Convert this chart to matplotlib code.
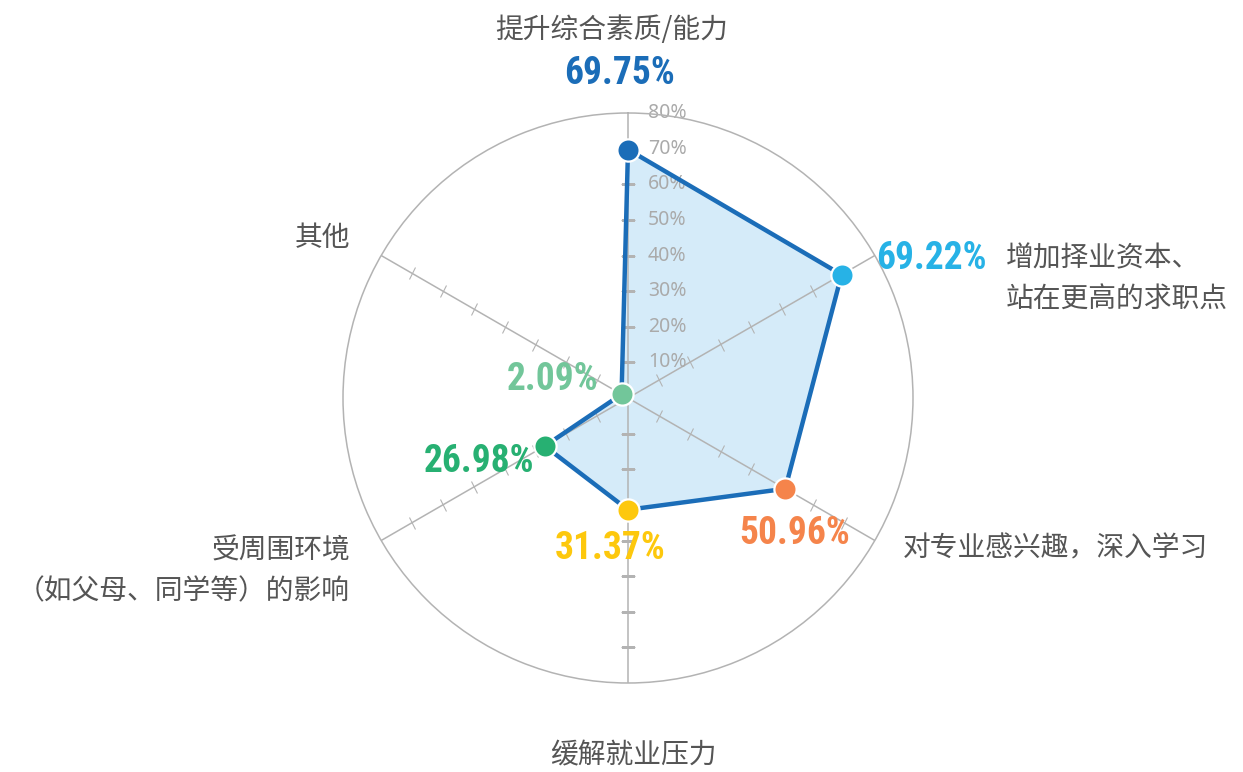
import numpy as np
import matplotlib
matplotlib.use('Agg')
import matplotlib.pyplot as plt
from matplotlib.markers import MarkerStyle
from matplotlib.transforms import Affine2D
from matplotlib import font_manager

plt.rcParams['font.family'] = ['Noto Sans CJK SC', 'DejaVu Sans']

# data, clockwise from the top
categories = ['提升综合素质/能力', '增加择业资本、\n站在更高的求职点', '对专业感兴趣，深入学习',
              '缓解就业压力', '受周围环境\n（如父母、同学等）的影响', '其他']
values = [69.75, 69.22, 50.96, 31.37, 26.98, 2.09]
point_colors = ['#1b6db8', '#27b2e6', '#f5844b', '#fdc80d', '#27b072', '#72c69a']
scale_ticks = [10, 20, 30, 40, 50, 60, 70, 80]

W, H = 1243, 772
fig = plt.figure(figsize=(W / 100, H / 100), dpi=100)
ax = fig.add_axes([(628 - 285) / W, (H - 398 - 285) / H, 570 / W, 570 / H], projection='polar')
ax.set_theta_offset(np.pi / 2)
ax.set_theta_direction(-1)
ax.set_ylim(0, 80)
ax.grid(False)
ax.set_xticks([])
ax.set_yticks([])
ax.spines['polar'].set_color('#b3b3b3')
ax.spines['polar'].set_linewidth(1.1)

n = len(values)
theta = np.arange(n) * 2 * np.pi / n
grid_c = '#b3b3b3'

# spokes and their small cross ticks
for i, th in enumerate(theta):
    ax.plot([th, th], [0, 80], color=grid_c, lw=1.1, zorder=2)
    ang = 90 - 60 * i
    mk = MarkerStyle('|', transform=Affine2D().rotate_deg(ang))
    ax.plot([th] * 7, scale_ticks[:7], ls='none', marker=mk, ms=10,
            mec=grid_c, mew=0.8, zorder=2, snap=False)

for v in scale_ticks:
    ax.annotate(f'{v}%', xy=(0, v), xytext=(20, 0), textcoords='offset pixels',
                ha='left', va='center', fontsize=14, color='#aaaaaa',
                family=['Noto Sans', 'DejaVu Sans'], zorder=2)

# polygon
th_c = np.append(theta, theta[0])
v_c = np.append(values, values[0])
ax.fill(th_c, v_c, color='#d5ebf9', zorder=1)
ax.plot(th_c, v_c, color='#1b6db8', lw=3.2, zorder=3, solid_joinstyle='miter')
for th, v, c in zip(theta, values, point_colors):
    ax.plot(th, v, 'o', ms=16, mfc=c, mec='white', mew=1.6, zorder=4)

# value labels, condensed face if one is there
names = {f.name for f in font_manager.fontManager.ttflist}
num_font = [f for f in ['Roboto Condensed', 'Liberation Sans Narrow', 'DejaVu Sans Condensed',
                        'Open Sans Condensed'] if f in names] + ['Liberation Sans', 'DejaVu Sans']
num_size = 27 if num_font[0] not in ('Liberation Sans', 'DejaVu Sans') else 21
offsets = [((-8, 76), 'center'), ((35, 16), 'left'), ((9, -45), 'center'),
           ((-18, -39), 'center'), ((-66, -15), 'center'), ((-69, 15), 'center')]
for th, v, c, (off, ha) in zip(theta, values, point_colors, offsets):
    ax.annotate(f'{v:.2f}%', xy=(th, v), xytext=off, textcoords='offset pixels',
                ha=ha, va='center', fontsize=num_size, color=c, family=num_font,
                fontstretch='condensed', fontweight='bold', zorder=5, annotation_clip=False)

# category labels
cat_c = '#555555'
fs = 20
fig.text(612 / W, 1 - 30 / H, categories[0], ha='center', va='center', fontsize=fs, color=cat_c)
fig.text(1006 / W, 1 - 279 / H, categories[1], ha='left', va='center', fontsize=fs,
         color=cat_c, linespacing=1.5)
fig.text(903 / W, 1 - 548 / H, categories[2], ha='left', va='center', fontsize=fs, color=cat_c)
fig.text(633 / W, 1 - 755 / H, categories[3], ha='center', va='center', fontsize=fs, color=cat_c)
fig.text(350 / W, 1 - 571 / H, categories[4], ha='right', va='center', fontsize=fs,
         color=cat_c, linespacing=1.5, multialignment='right')
fig.text(350 / W, 1 - 238 / H, categories[5], ha='right', va='center', fontsize=fs, color=cat_c)

fig.savefig('out.png', dpi=100)
